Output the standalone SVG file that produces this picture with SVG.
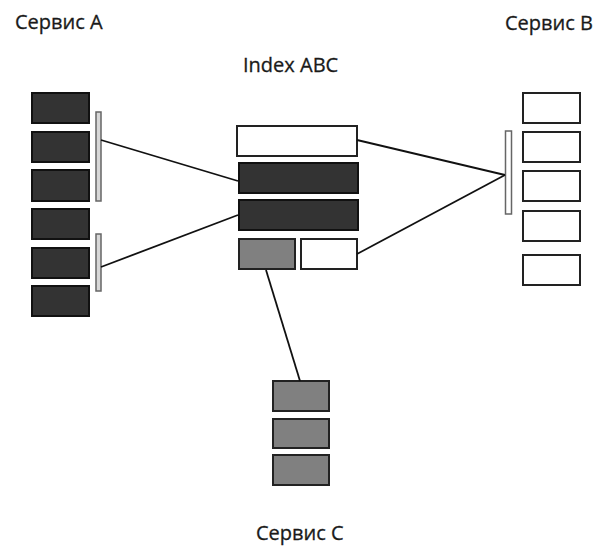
<svg xmlns="http://www.w3.org/2000/svg" width="596" height="546" viewBox="0 0 596 546">
<style>
  .lbl { font-family: "Open Sans", "Liberation Sans", sans-serif; font-size: 20px; fill: #1a1a1a; stroke: #1a1a1a; stroke-width: 0.3; }
  .dark { fill: #333; stroke: #111; stroke-width: 2; }
  .gray { fill: #808080; stroke: #222; stroke-width: 2; }
  .white { fill: #fff; stroke: #222; stroke-width: 2; }
  .barA { fill: #d8d8d8; stroke: #666; stroke-width: 1.5; }
  .barB { fill: #fff; stroke: #666; stroke-width: 1.5; }
  .conn { stroke: #111; stroke-width: 1.8; fill: none; }
</style>
<rect width="596" height="546" fill="#fff"/>

<g id="serviceA">
  <text class="lbl" x="15" y="29">Сервис A</text>
  <rect class="dark" x="32" y="93" width="57" height="30"/>
  <rect class="dark" x="32" y="132" width="57" height="30"/>
  <rect class="dark" x="32" y="170" width="57" height="31"/>
  <rect class="dark" x="32" y="209" width="57" height="30"/>
  <rect class="dark" x="32" y="248" width="57" height="30"/>
  <rect class="dark" x="32" y="286" width="57" height="30"/>
  <rect class="barA" x="96" y="112" width="5" height="89"/>
  <rect class="barA" x="96" y="234" width="5" height="57"/>
</g>

<g id="index">
  <text class="lbl" x="243" y="72">Index ABC</text>
  <rect class="white" x="237" y="126" width="120" height="30"/>
  <rect class="dark" x="239" y="163" width="119" height="30"/>
  <rect class="dark" x="239" y="200" width="119" height="30"/>
  <rect class="gray" x="239" y="239" width="56" height="30"/>
  <rect class="white" x="301" y="239" width="56" height="30"/>
</g>

<g id="serviceB">
  <text class="lbl" x="505" y="30">Сервис B</text>
  <rect class="white" x="523" y="93" width="57" height="30"/>
  <rect class="white" x="523" y="132" width="57" height="30"/>
  <rect class="white" x="523" y="171" width="57" height="30"/>
  <rect class="white" x="523" y="211" width="57" height="30"/>
  <rect class="white" x="523" y="255" width="57" height="30"/>
  <rect class="barB" x="505.5" y="131" width="6" height="83"/>
</g>

<g id="serviceC">
  <text class="lbl" x="256" y="540">Сервис C</text>
  <rect class="gray" x="273" y="381" width="56" height="30"/>
  <rect class="gray" x="273" y="419" width="56" height="29"/>
  <rect class="gray" x="273" y="455" width="56" height="30"/>
</g>

<g id="connectors">
  <line class="conn" x1="101" y1="140" x2="238" y2="181"/>
  <line class="conn" x1="101" y1="267" x2="238" y2="215"/>
  <line class="conn" x1="357" y1="140" x2="505" y2="175"/>
  <line class="conn" x1="357" y1="254" x2="505" y2="175"/>
  <line class="conn" x1="266" y1="270" x2="300" y2="381"/>
</g>
</svg>
